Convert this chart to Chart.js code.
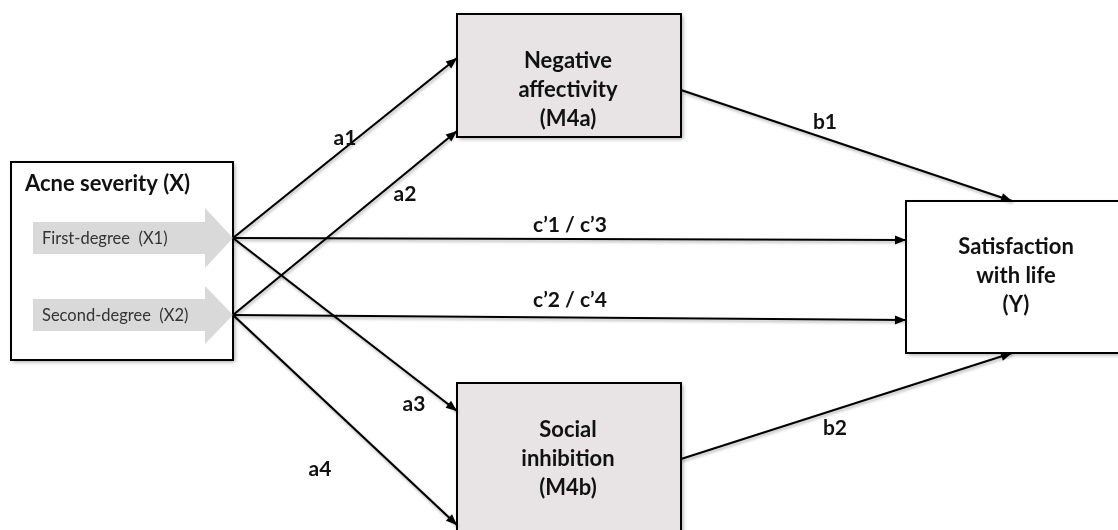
<!DOCTYPE html>
<html>
<head>
<meta charset="utf-8">
<script src="https://cdn.jsdelivr.net/npm/chart.js"></script>
<style>
  html, body { margin: 0; padding: 0; background: #fff; }
  #wrap { width: 1118px; height: 530px; }
</style>
</head>
<body>
<div id="wrap"><canvas id="diagram"></canvas></div>
<script>
// Diagram content
const nodeNames = ['X', 'M4a', 'M4b', 'Y'];
const nodeLabels = [
  ['Acne severity (X)'],
  ['Negative', 'affectivity', '(M4a)'],
  ['Social', 'inhibition', '(M4b)'],
  ['Satisfaction', 'with life', '(Y)']
];
const predictorLabels = ['First-degree  (X1)', 'Second-degree  (X2)'];
const pathLabels = ['a1', 'a2', 'a3', 'a4', 'c\u20191 / c\u20193', 'c\u20192 / c\u20194', 'b1', 'b2'];

// Layout (pixel space of a 1118 x 530 canvas)
const boxes = {
  X:   { x0: 11,  y0: 162, x1: 233,  y1: 360, fill: '#ffffff' },
  M4a: { x0: 457, y0: 14,  x1: 681,  y1: 137, fill: '#e8e4e6' },
  M4b: { x0: 457, y0: 383, x1: 681,  y1: 545, fill: '#e8e4e6' },
  Y:   { x0: 906, y0: 201, x1: 1125, y1: 353, fill: '#ffffff' }
};
const blockArrows = [
  { x0: 33, x1: 205, tip: 233, cy: 238, half: 16, headHalf: 30 },
  { x0: 33, x1: 205, tip: 233, cy: 315, half: 16, headHalf: 29 }
];
const pathGeom = [
  [[233, 238], [457, 58]],
  [[233, 315], [457, 131]],
  [[233, 238], [457, 411]],
  [[233, 315], [457, 525]],
  [[233, 238], [906, 240]],
  [[233, 315], [906, 320]],
  [[681, 90],  [1012, 201]],
  [[681, 459], [1012, 353]]
];
const pathLabelPos = [
  [345, 138], [405, 194], [414, 404], [320, 469],
  [570, 225], [570, 300], [825, 122], [835, 428]
];

const FONT = 'Lato, "Open Sans", sans-serif';

const datasets = pathGeom.map(function(seg, i) {
  return {
    label: pathLabels[i],
    data: seg.map(function(p) { return { x: p[0], y: p[1] }; }),
    showLine: true,
    borderColor: '#000',
    borderWidth: 2.2,
    pointRadius: 0,
    tension: 0
  };
});

function px(chart, x) { return chart.scales.x.getPixelForValue(x); }
function py(chart, y) { return chart.scales.y.getPixelForValue(y); }

const diagramPlugin = {
  id: 'diagram',
  beforeDatasetsDraw: function(chart) {
    const ctx = chart.ctx;
    ctx.save();
    // boxes
    nodeNames.forEach(function(name) {
      const b = boxes[name];
      const x0 = px(chart, b.x0), y0 = py(chart, b.y0);
      const w = px(chart, b.x1) - x0, h = py(chart, b.y1) - y0;
      ctx.shadowColor = 'rgba(0,0,0,0.35)';
      ctx.shadowBlur = 4;
      ctx.shadowOffsetX = 2;
      ctx.shadowOffsetY = 2;
      ctx.fillStyle = b.fill;
      ctx.fillRect(x0, y0, w, h);
      ctx.shadowColor = 'transparent';
      ctx.lineWidth = 2;
      ctx.strokeStyle = '#000';
      ctx.strokeRect(x0, y0, w, h);
    });
    // grey block arrows in the predictor box
    blockArrows.forEach(function(a, i) {
      ctx.fillStyle = '#d9d9d9';
      ctx.beginPath();
      ctx.moveTo(px(chart, a.x0), py(chart, a.cy - a.half));
      ctx.lineTo(px(chart, a.x1), py(chart, a.cy - a.half));
      ctx.lineTo(px(chart, a.x1), py(chart, a.cy - a.headHalf));
      ctx.lineTo(px(chart, a.tip), py(chart, a.cy));
      ctx.lineTo(px(chart, a.x1), py(chart, a.cy + a.headHalf));
      ctx.lineTo(px(chart, a.x1), py(chart, a.cy + a.half));
      ctx.lineTo(px(chart, a.x0), py(chart, a.cy + a.half));
      ctx.closePath();
      ctx.fill();
      ctx.fillStyle = '#333';
      ctx.font = '16.5px ' + FONT;
      ctx.textAlign = 'left';
      ctx.textBaseline = 'middle';
      ctx.fillText(predictorLabels[i], px(chart, 42), py(chart, a.cy + 1));
    });
    // box titles
    ctx.fillStyle = '#111';
    ctx.font = 'bold 22px ' + FONT;
    ctx.textAlign = 'left';
    ctx.textBaseline = 'middle';
    ctx.fillText(nodeLabels[0][0], px(chart, 25), py(chart, 184));
    ctx.textAlign = 'center';
    const centres = { M4a: [568, 61], M4b: [568, 430], Y: [1016, 247] };
    ['M4a', 'M4b', 'Y'].forEach(function(name) {
      const lines = nodeLabels[nodeNames.indexOf(name)];
      const c = centres[name];
      lines.forEach(function(t, j) {
        ctx.fillText(t, px(chart, c[0]), py(chart, c[1] + j * 29));
      });
    });
    ctx.restore();
    // shadow for the path lines
    ctx.save();
    ctx.shadowColor = 'rgba(0,0,0,0.3)';
    ctx.shadowBlur = 3;
    ctx.shadowOffsetX = 1;
    ctx.shadowOffsetY = 2;
  },
  afterDatasetsDraw: function(chart) {
    const ctx = chart.ctx;
    ctx.restore();
    ctx.save();
    // arrowheads
    chart.data.datasets.forEach(function(ds) {
      const p0 = ds.data[0], p1 = ds.data[1];
      const x0 = px(chart, p0.x), y0 = py(chart, p0.y);
      const x1 = px(chart, p1.x), y1 = py(chart, p1.y);
      const ang = Math.atan2(y1 - y0, x1 - x0);
      const len = 11, half = 4.5;
      ctx.fillStyle = '#000';
      ctx.beginPath();
      ctx.moveTo(x1, y1);
      ctx.lineTo(x1 - len * Math.cos(ang) + half * Math.sin(ang), y1 - len * Math.sin(ang) - half * Math.cos(ang));
      ctx.lineTo(x1 - len * Math.cos(ang) - half * Math.sin(ang), y1 - len * Math.sin(ang) + half * Math.cos(ang));
      ctx.closePath();
      ctx.fill();
    });
    // path labels
    ctx.fillStyle = '#111';
    ctx.font = 'bold 21px ' + FONT;
    ctx.textAlign = 'center';
    ctx.textBaseline = 'middle';
    pathLabels.forEach(function(t, i) {
      ctx.fillText(t, px(chart, pathLabelPos[i][0]), py(chart, pathLabelPos[i][1]));
    });
    ctx.restore();
  }
};

new Chart(document.getElementById('diagram'), {
  type: 'scatter',
  data: { datasets: datasets },
  options: {
    responsive: true,
    maintainAspectRatio: false,
    animation: false,
    layout: { padding: 0 },
    plugins: { legend: { display: false }, tooltip: { enabled: false } },
    scales: {
      x: { type: 'linear', min: 0, max: 1118, display: false },
      y: { type: 'linear', min: 0, max: 530, reverse: true, display: false }
    }
  },
  plugins: [diagramPlugin]
});
</script>
</body>
</html>
